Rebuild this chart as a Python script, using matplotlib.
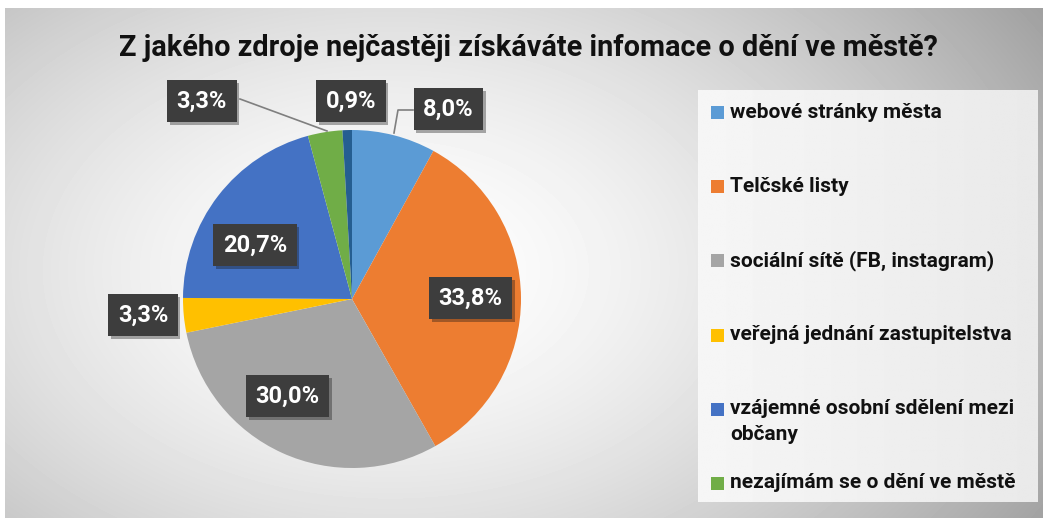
import numpy as np
import matplotlib
matplotlib.use("Agg")
import matplotlib.pyplot as plt
from matplotlib import patches
from matplotlib import patheffects as pe

# data
categories = ["webové stránky města", "Telčské listy", "sociální sítě (FB, instagram)",
              "veřejná jednání zastupitelstva", "vzájemné osobní sdělení mezi\nobčany",
              "nezajímám se o dění ve městě", "jiné"]
shares = [8.0, 33.8, 30.0, 3.3, 20.7, 3.3, 0.9]
colors = ["#5B9BD5", "#ED7D31", "#A5A5A5", "#FFC000", "#4472C4", "#70AD47", "#255E91"]
in_legend = [True, True, True, True, True, True, False]
title = "Z jakého zdroje nejčastěji získáváte infomace o dění ve městě?"

# label box centres, in pie radii (layout)
label_pos = [(0.57, 1.125), (0.70, 0.006), (-0.38, -0.575), (-1.237, -0.095),
             (-0.574, 0.320), (-0.888, 1.172), (-0.006, 1.172)]

W, H = 1043, 518
CX, CY, R = 352, 299, 169  # pie centre / radius in pixels

plt.rcParams['font.family'] = ['Roboto', 'DejaVu Sans']
fig = plt.figure(figsize=(W / 100, H / 100), dpi=100)

# background with radial gradient
bg = fig.add_axes([0, 0, 1, 1])
yy, xx = np.mgrid[0:H, 0:W]
d = np.hypot((xx - 390) / 640.0, (yy - 270) / 420.0)
shade = 1 - 0.28 * np.clip(d, 0, 1.2) ** 1.6
shade[:8, :] = 1.0
shade[:, :5] = 1.0
bg.imshow(shade, cmap="gray", vmin=0, vmax=1, extent=[0, W, H, 0], aspect="auto")

# legend box
lg = np.tile(np.linspace(0.965, 0.915, 200), (60, 1))
bg.imshow(lg, cmap="gray", vmin=0, vmax=1, extent=[698, 1038, 502, 90], aspect="auto")
bg.set_xlim(0, W)
bg.set_ylim(H, 0)
bg.axis("off")

# pie axes mapped so that 1 unit = R pixels
ax = fig.add_axes([0, 0, 690 / W, 1])
ax.patch.set_alpha(0)

wedges, _ = ax.pie(shares, colors=colors, startangle=90, counterclock=False,
                   radius=1, wedgeprops=dict(linewidth=0))
ax.set_aspect("auto")
ax.set_xlim((0 - CX) / R, (690 - CX) / R)
ax.set_ylim((CY - H) / R, CY / R)
ax.axis("off")

for i, (v, (lx, ly)) in enumerate(zip(shares, label_pos)):
    t = ax.text(lx, ly, f"{v:.1f}".replace(".", ",") + "%", ha="center", va="center",
                color="white", fontsize=17, fontweight="bold",
                bbox=dict(boxstyle="square,pad=0.4", fc="#3d3d3d", ec="none"))
    t.get_bbox_patch().set_path_effects([pe.SimplePatchShadow(offset=(2, -2), alpha=0.35),
                                         pe.Normal()])

# leader lines
def px(x, y):
    return (x - CX) / R, (CY - y) / R

lx0, ly0 = px(413, 110)
lx1, ly1 = px(398, 110)
lx2, ly2 = px(394, 133)
ax.plot([lx0, lx1, lx2], [ly0, ly1, ly2], color="#7f7f7f", lw=1.2, zorder=1)
gx0, gy0 = px(240, 99)
gx1, gy1 = px(327, 131)
ax.plot([gx0, gx1], [gy0, gy1], color="#7f7f7f", lw=1.2, zorder=1)

# title
fig.text(528 / W, 1 - 48 / H, title, ha="center", va="center", fontsize=20.8,
         fontweight="bold", color="#111111")

# legend entries
ys = [113, 187, 261, 336, 410, 484]
for k, (lab, c) in enumerate([(l, c) for l, c, s in zip(categories, colors, in_legend) if s]):
    y = ys[k]
    bg.add_patch(patches.Rectangle((711, y - 7), 13, 13, fc=c, ec="none"))
    bg.text(730, y - 10.5, lab, ha="left", va="top", fontsize=15, fontweight="bold",
            color="#111111", linespacing=1.4)

fig.savefig("out.png", dpi=100)
